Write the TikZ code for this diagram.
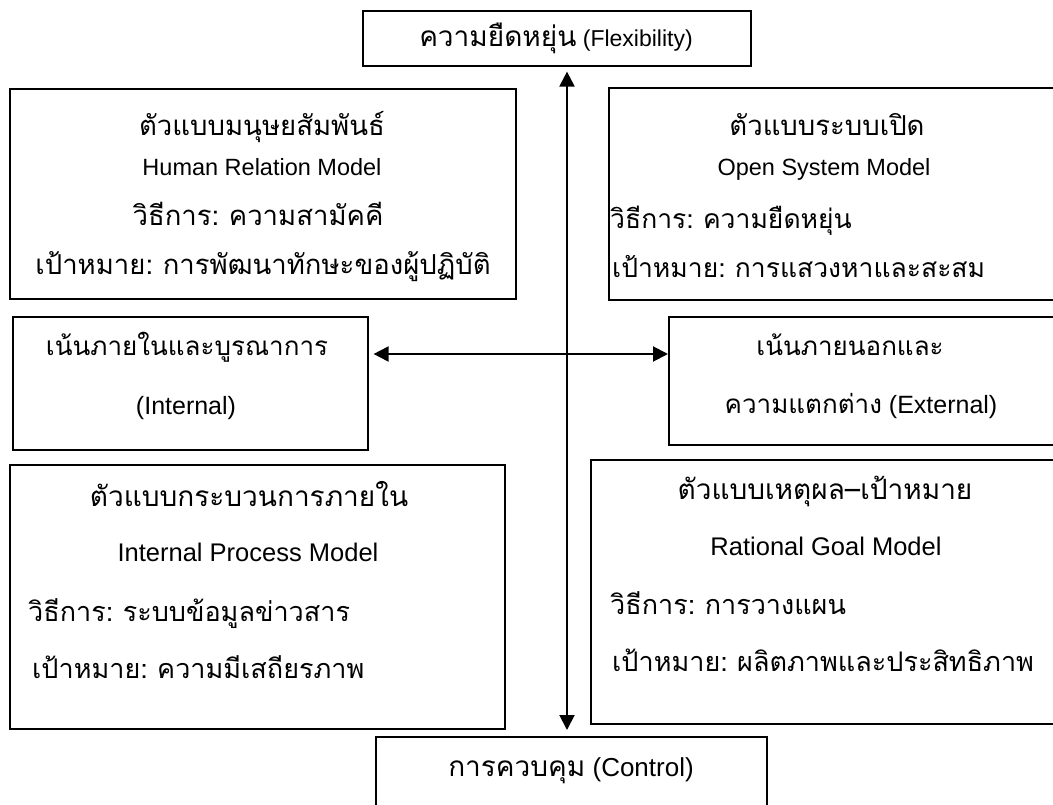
\documentclass[tikz,border=0pt]{standalone}
\usepackage{fontspec}
\setmainfont{Liberation Sans}
\newfontfamily\thaif[Script=Thai,WordSpace=0.7]{Loma}
\usetikzlibrary{arrows.meta}
\newcommand\thA[1]{{\thaif\fontsize{27.5}{33}\selectfont #1}}
\newcommand\thAs[1]{{\thaif\fontsize{26.5}{32}\selectfont #1}}
\newcommand\thB[1]{{\thaif\fontsize{28}{33}\selectfont #1}}
\newcommand\thBl[1]{{\thaif\fontsize{27}{32}\selectfont #1}}
\newcommand\thC[1]{{\thaif\fontsize{26}{31}\selectfont #1}}
\begin{document}
\begin{tikzpicture}[x=1pt,y=-1pt,
  box/.style={draw, line width=1.6pt, rectangle, inner sep=0pt},
  lbl/.style={inner sep=0pt, font=\fontsize{23.5}{28}\selectfont, anchor=mid},
  lbll/.style={lbl, anchor=mid west},
  bigsz/.style={font=\fontsize{25.5}{30}\selectfont},
  midsz/.style={font=\fontsize{25}{29}\selectfont},
  capsz/.style={font=\fontsize{23}{28}\selectfont},
  ctlsz/.style={font=\fontsize{26}{30}\selectfont},
  arr/.style={line width=2pt, {Triangle[length=15pt,width=15pt]}-{Triangle[length=15pt,width=15pt]}}]
\useasboundingbox (0,0) rectangle (1053,805);
\clip (0,0) rectangle (1053,805);
% boxes
\node[box, anchor=north west, minimum width=388pt, minimum height=55pt] (flex) at (362,10) {};
\node[box, anchor=north west, minimum width=506pt, minimum height=210pt] (hr) at (9,88) {};
\node[box, anchor=north west, minimum width=460pt, minimum height=212pt] (os) at (608,87) {};
\node[box, anchor=north west, minimum width=355pt, minimum height=133pt] (int) at (12,316) {};
\node[box, anchor=north west, minimum width=400pt, minimum height=128pt] (ext) at (668,316) {};
\node[box, anchor=north west, minimum width=495pt, minimum height=264pt] (ip) at (9,464) {};
\node[box, anchor=north west, minimum width=480pt, minimum height=264pt] (rg) at (590,459) {};
\node[box, anchor=north west, minimum width=391pt, minimum height=90pt] (ctl) at (375,736) {};
% texts
\node[lbl, capsz] (flext) at (556,44) {\thB{ความยืดหยุ่น} (Flexibility)};
\node[lbl, ctlsz] (ctlt) at (571,774) {\thB{การควบคุม} (Control)};
\node[lbl] (hr1) at (262,133) {\thA{ตัวแบบมนุษยสัมพันธ์}};
\node[lbl] (hr2) at (262,173) {Human Relation Model};
\node[lbl] (hr3) at (258,223) {\thA{วิธีการ: ความสามัคคี}};
\node[lbl] (hr4) at (263,272) {\thA{เป้าหมาย: การพัฒนาทักษะของผู้ปฏิบัติ}};
\node[lbl] (os1) at (827,133) {\thA{ตัวแบบระบบเปิด}};
\node[lbl] (os2) at (824,173) {Open System Model};
\node[lbll] (os3) at (610,226) {\thAs{วิธีการ: ความยืดหยุ่น}};
\node[lbll] (os4) at (612,275) {\thAs{เป้าหมาย: การแสวงหาและสะสม}};
\node[lbl, midsz] (int1) at (187,353) {\thC{เน้นภายในและบูรณาการ}};
\node[lbl, midsz] (int2) at (186,412) {(Internal)};
\node[lbl, midsz] (ext1) at (850,353) {\thC{เน้นภายนอกและ}};
\node[lbl, midsz] (ext2) at (861,411) {\thC{ความแตกต่าง} (External)};
\node[lbl, bigsz] (ip1) at (249,504) {\thB{ตัวแบบกระบวนการภายใน}};
\node[lbl, bigsz] (ip2) at (248,559) {Internal Process Model};
\node[lbll, bigsz] (ip3) at (28,619) {\thBl{วิธีการ: ระบบข้อมูลข่าวสาร}};
\node[lbll, bigsz] (ip4) at (32,676) {\thBl{เป้าหมาย: ความมีเสถียรภาพ}};
\node[lbl, bigsz] (rg1) at (825,497) {\thB{ตัวแบบเหตุผล–เป้าหมาย}};
\node[lbl, bigsz] (rg2) at (826,553) {Rational Goal Model};
\node[lbll, bigsz] (rg3) at (610,612) {\thBl{วิธีการ: การวางแผน}};
\node[lbll, bigsz] (rg4) at (612,669) {\thBl{เป้าหมาย: ผลิตภาพและประสิทธิภาพ}};
% connectors
\coordinate (vx) at (567,0);
\coordinate (hy) at (0,354);
\draw[arr, shorten <=5pt, shorten >=6pt] (flex.south -| vx) -- (ctl.north -| vx);
\draw[arr, shorten <=5pt] (int.east |- hy) -- (ext.west |- hy);
\end{tikzpicture}
\end{document}
